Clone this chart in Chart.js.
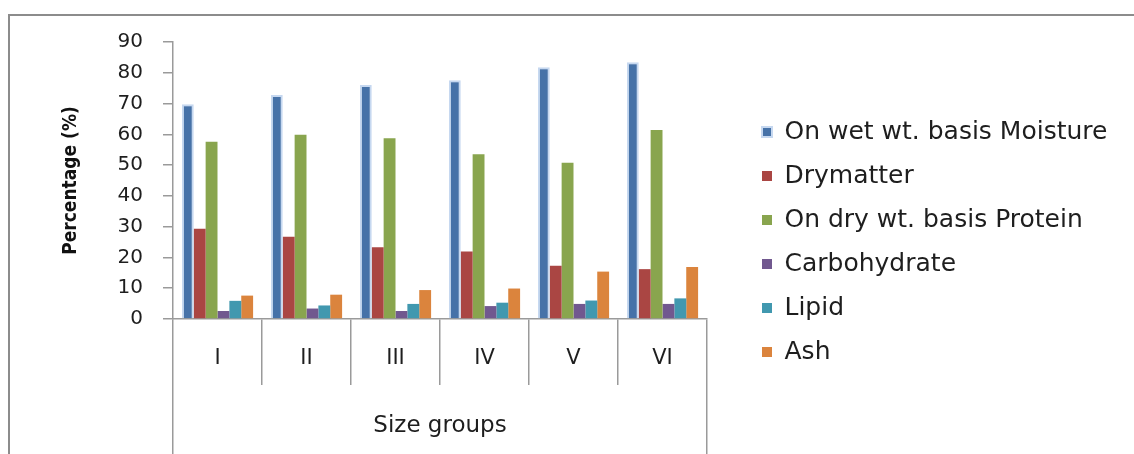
<!DOCTYPE html>
<html>
<head>
<meta charset="utf-8">
<script src="https://cdn.jsdelivr.net/npm/chart.js@4/dist/chart.umd.min.js"></script>
<style>
  html, body { margin: 0; padding: 0; background: #fff; }
  #wrap { position: relative; width: 1134px; height: 454px; overflow: hidden; }
  #frame { position: absolute; left: 8px; top: 14px; width: 1200px; height: 500px;
           border-top: 2px solid #8c8c8c; border-left: 2px solid #8c8c8c; }
  canvas { position: absolute; left: 0; top: 0; }
</style>
</head>
<body>
<div id="wrap">
  <div id="frame"></div>
  <canvas id="chart" width="1134" height="454"></canvas>
</div>
<script>
// Proximate composition by size group (%)
const sizeGroups   = ['I', 'II', 'III', 'IV', 'V', 'VI'];
const moisture     = [69.8, 72.8, 76.0, 77.6, 81.8, 83.4];
const drymatter    = [29.3, 26.7, 23.3, 21.9, 17.3, 16.2];
const protein      = [57.6, 59.9, 58.7, 53.5, 50.8, 61.4];
const carbohydrate = [2.6, 3.4, 2.6, 4.2, 4.9, 4.9];
const lipid        = [5.9, 4.4, 4.9, 5.3, 6.0, 6.7];
const ash          = [7.6, 7.9, 9.4, 9.9, 15.4, 16.9];
const yTickValues  = [0, 10, 20, 30, 40, 50, 60, 70, 80, 90];
const xTitleLabels = ['Size groups'];

Chart.defaults.font.family = 'DejaVu Sans';
Chart.defaults.color = '#1e1e1e';

const axisGrey = '#9a9a9a';
const textDark = '#1e1e1e';

// Legend panel: fixed width on the right, entries set in from its left edge
const LEGEND_PANEL_WIDTH = 427;
const LEGEND_INSET = 36;
const legendPanel = {
  id: 'legendPanel',
  beforeUpdate(chart) {
    const l = chart.legend;
    if (!l || l._panelFit) return;
    const fit = l.fit.bind(l);
    l.fit = function () { fit(); this.width = LEGEND_PANEL_WIDTH; };
    l._panelFit = true;
  },
  afterLayout(chart) {
    const l = chart.legend;
    if (!l) return;
    l.left += LEGEND_INSET;
    l.right = chart.width;
    l.top -= 6; l.bottom -= 6;
  }
};

const series = [
  { label: 'On wet wt. basis Moisture', data: moisture, color: '#4672a8',
    borderColor: '#c6d8f0', borderWidth: 2 },
  { label: 'Drymatter', data: drymatter, color: '#aa4643' },
  { label: 'On dry wt. basis Protein', data: protein, color: '#89a54e' },
  { label: 'Carbohydrate', data: carbohydrate, color: '#71588f' },
  { label: 'Lipid', data: lipid, color: '#4198af' },
  { label: 'Ash', data: ash, color: '#db843d' }
];

new Chart(document.getElementById('chart'), {
  type: 'bar',
  data: {
    labels: sizeGroups,
    datasets: series.map(s => ({
      label: s.label,
      data: s.data,
      backgroundColor: s.color,
      borderColor: s.borderColor || s.color,
      borderWidth: s.borderWidth || 0,
      categoryPercentage: 0.8,
      barPercentage: 1.0
    }))
  },
  options: {
    responsive: false,
    animation: false,
    layout: { padding: { top: 42, right: 0, bottom: 0, left: 0 } },
    plugins: {
      legend: {
        position: 'right',
        align: 'center',
        labels: {
          boxWidth: 10, boxHeight: 10, padding: 19,
          color: textDark,
          font: { family: 'DejaVu Sans', size: 25 }
        }
      },
      tooltip: { enabled: false }
    },
    scales: {
      y: {
        min: 0, max: 90,
        afterFit(scale) { scale.width = 173; },
        afterBuildTicks(scale) { scale.ticks = yTickValues.map(v => ({ value: v })); },
        ticks: { padding: 20, color: textDark, font: { size: 20 } },
        grid: { drawOnChartArea: false, tickLength: 10, color: axisGrey, lineWidth: 1.5 },
        border: { color: axisGrey, width: 1.5 },
        title: {
          display: true, text: 'Percentage (%)', color: '#111',
          padding: { top: 60, bottom: 0 },
          font: { family: 'DejaVu Sans Condensed', size: 19, weight: 'bold' }
        }
      },
      x: {
        afterFit(scale) { scale.height = 66; },
        grid: { offset: true, drawOnChartArea: false, tickLength: 66, color: axisGrey, lineWidth: 1.5 },
        border: { color: axisGrey, width: 1.5 },
        ticks: { padding: -39, color: textDark, font: { size: 21 } }
      },
      x2: {
        type: 'category',
        labels: xTitleLabels,
        position: 'bottom',
        weight: 1,
        offset: true,
        afterFit(scale) { scale.height = 69; },
        grid: { offset: true, drawOnChartArea: false, tickLength: 69, color: axisGrey, lineWidth: 1.5 },
        border: { display: false },
        ticks: { padding: -42, color: textDark, font: { size: 23 } }
      }
    }
  },
  plugins: [legendPanel]
});
</script>
</body>
</html>
